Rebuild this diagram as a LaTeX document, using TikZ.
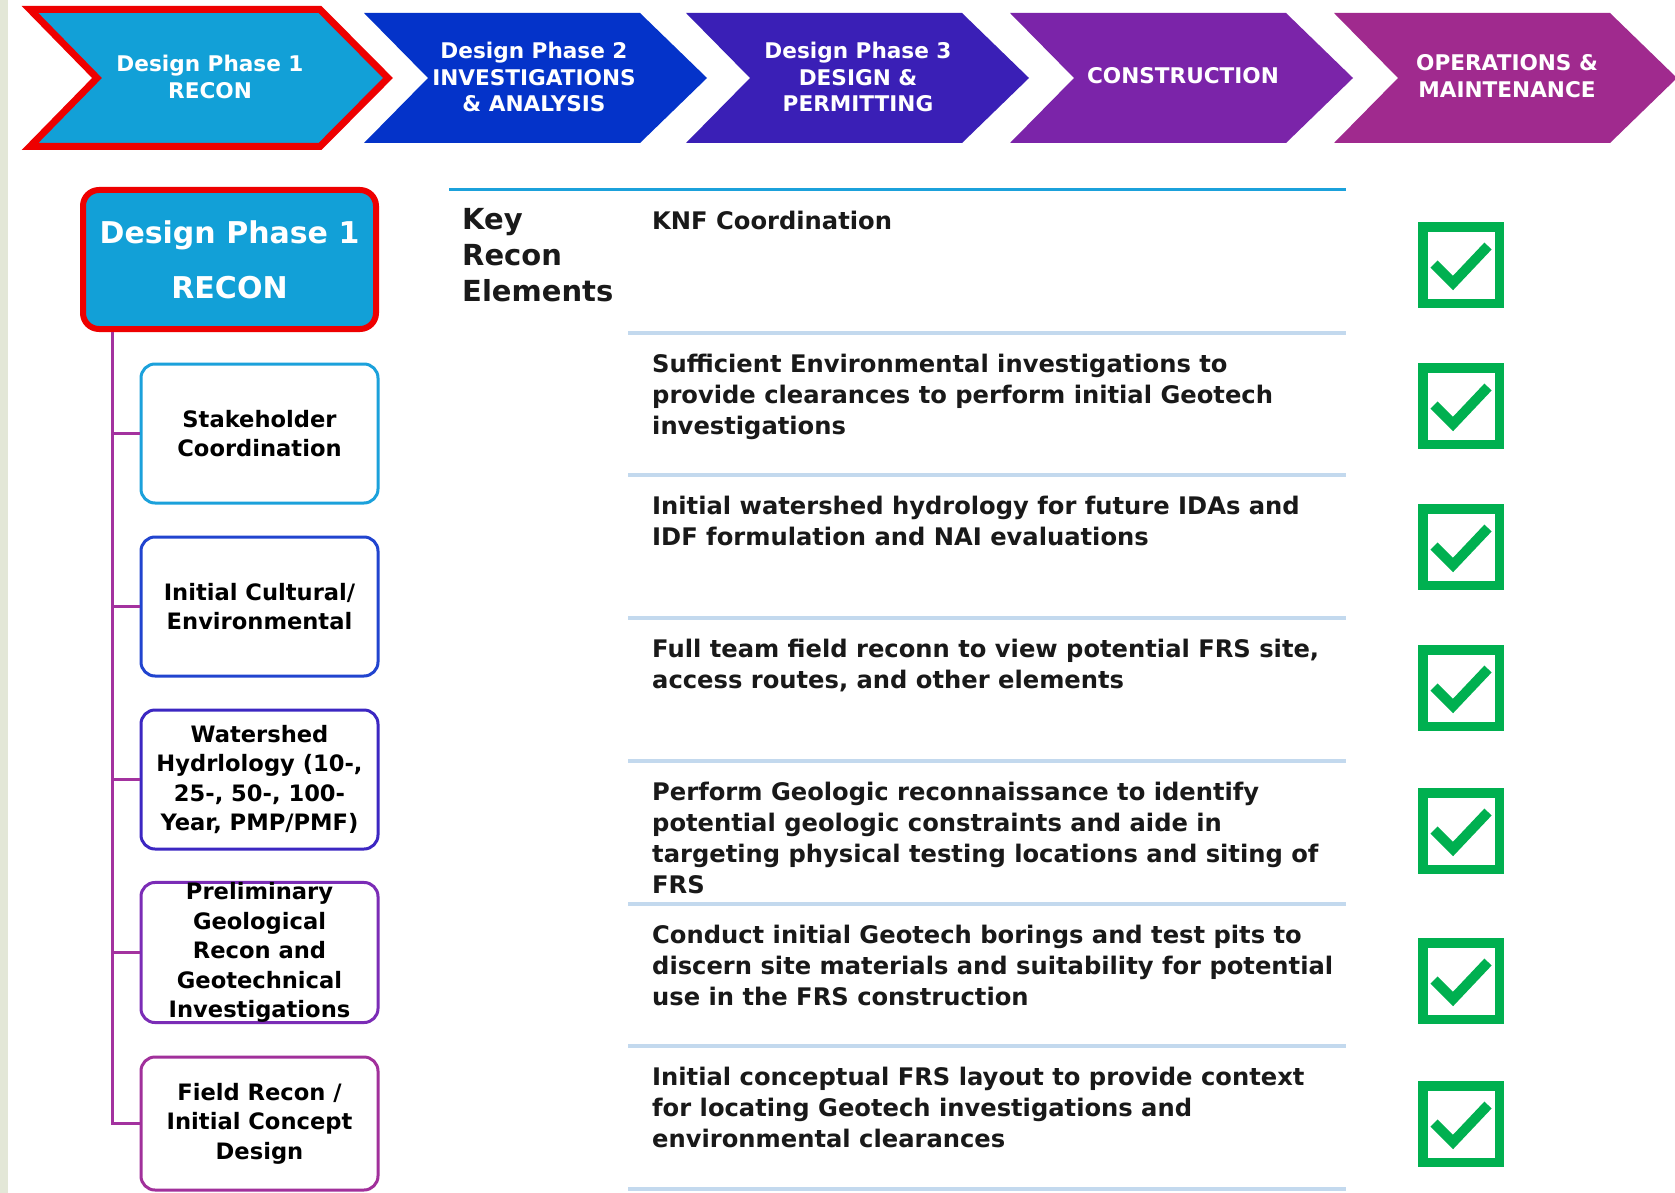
\documentclass[tikz,border=0pt]{standalone}
\usepackage{fontspec}
\setmainfont{DejaVu Sans}
\definecolor{cA}{HTML}{12A0D7}
\definecolor{cB}{HTML}{0433C9}
\definecolor{cC}{HTML}{3A1FB6}
\definecolor{cD}{HTML}{7B24A9}
\definecolor{cE}{HTML}{A02A8E}
\definecolor{redc}{HTML}{EE0000}
\definecolor{treec}{HTML}{A3329F}
\definecolor{bA}{HTML}{1BA1DB}
\definecolor{bB}{HTML}{2144CF}
\definecolor{bC}{HTML}{3C27C2}
\definecolor{bD}{HTML}{7B2CB6}
\definecolor{bE}{HTML}{A1309B}
\definecolor{rulec}{HTML}{C3D9EE}
\definecolor{greenc}{HTML}{00B050}
\definecolor{stripc}{HTML}{E3E7D7}
\begin{document}
\begin{tikzpicture}[x=1pt,y=-1pt,
  chevtext/.style={font=\bfseries\fontsize{21.6}{26.5}\selectfont, text=white, align=center, inner sep=0pt},
  rootbox/.style={draw=redc, line width=6pt, fill=cA, rounded corners=16pt, minimum width=293pt, minimum height=139pt,
     font=\bfseries\fontsize{30}{55}\selectfont, text=white, align=center, inner sep=0pt},
  subbox/.style={draw=#1, line width=3pt, fill=white, rounded corners=14pt, minimum width=237pt, minimum height=139pt,
     font=\bfseries\fontsize{22.6}{29.5}\selectfont, text=black, align=center, inner sep=0pt},
  tree/.style={treec, line width=3pt},
  rowtext/.style={anchor=north west, inner sep=0pt, align=left, font=\bfseries\fontsize{24.2}{31}\selectfont, text=black!90},
  keytext/.style={anchor=north west, inner sep=0pt, align=left, font=\bfseries\fontsize{29}{36}\selectfont, text=black!90},
  rowrule/.style={rulec, line width=4pt},
  checkbox/.style={greenc, line width=9.5pt},
  checkmark/.style={greenc, line width=10pt}
]
\useasboundingbox (0,0) rectangle (1675,1193);
\fill[white] (0,0) rectangle (1675,1193);
\fill[stripc] (0,0) rectangle (8,1193);

% chevrons
\filldraw[fill=cA, draw=redc, line width=7pt, line join=miter]
  (30,9.5) -- (320,9.5) -- (388,78) -- (320,146.5) -- (30,146.5) -- (97,78) -- cycle;
\foreach \L/\col in {364/cB,686/cC,1010/cD,1334/cE}
  \fill[\col] (\L,13) -- ++(276,0) -- ++(67,65) -- ++(-67,65) -- ++(-276,0) -- ++(64,-65) -- cycle;
\node[chevtext] (p1) at (210,77) {Design Phase 1\\RECON};
\node[chevtext] (p2) at (534,77) {Design Phase 2\\INVESTIGATIONS\\\& ANALYSIS};
\node[chevtext] (p3) at (858,77) {Design Phase 3\\DESIGN \&\\PERMITTING};
\node[chevtext] (p4) at (1183,76) {CONSTRUCTION};
\node[chevtext] (p5) at (1507,76) {OPERATIONS \&\\MAINTENANCE};

% left tree
\node[rootbox] (root) at (229.5,259.5) {Design Phase 1\\RECON};
\coordinate (trunk) at (112,332);
\coordinate (trunkend) at (112,1125);
\draw[tree] (trunk) -- (trunkend);
\node[subbox=bA] (s1) at (259.5,433.5) {Stakeholder\\Coordination};
\node[subbox=bB] (s2) at (259.5,606.5) {Initial Cultural/\\Environmental};
\node[subbox=bC] (s3) at (259.5,779.5) {Watershed\\Hydrlology (10-,\\25-, 50-, 100-\\Year, PMP/PMF)};
\node[subbox=bD] (s4) at (259.5,952.5) {Preliminary\\Geological\\Recon and\\Geotechnical\\Investigations};
\node[subbox=bE, minimum height=133pt] (s5) at (259.5,1123.5) {Field Recon /\\Initial Concept\\Design};
\foreach \s in {s1,s2,s3,s4,s5}
  \draw[tree] (trunk) |- (\s.west);

% table
\draw[bA, line width=3pt] (449,190) -- (1346,190);
\foreach \y in {333,475,618,761,904,1046,1189}
  \draw[rowrule] (628,\y) -- (1346,\y);
\node[keytext] (key) at (462,204.4) {\strut Key\\Recon\\Elements};
\node[rowtext] (r1) at (652,207.8) {\strut KNF Coordination};
\node[rowtext] (r2) at (652,350.8) {\strut Sufficient Environmental investigations to\\provide clearances to perform initial Geotech\\investigations};
\node[rowtext] (r3) at (652,492.8) {\strut Initial watershed hydrology for future IDAs and\\IDF formulation and NAI evaluations};
\node[rowtext] (r4) at (652,635.8) {\strut Full team field reconn to view potential FRS site,\\access routes, and other elements};
\node[rowtext] (r5) at (652,778.8) {\strut Perform Geologic reconnaissance to identify\\potential geologic constraints and aide in\\targeting physical testing locations and siting of\\FRS};
\node[rowtext] (r6) at (652,921.8) {\strut Conduct initial Geotech borings and test pits to\\discern site materials and suitability for potential\\use in the FRS construction};
\node[rowtext] (r7) at (652,1063.8) {\strut Initial conceptual FRS layout to provide context\\for locating Geotech investigations and\\environmental clearances};

% check boxes
\foreach \t in {222,363,504,645,788,938,1081} {
  \draw[checkbox] (1422.75,\t+4.75) rectangle (1499.25,\t+81.25);
  \draw[checkmark] (1434,\t+42) -- (1453,\t+61) -- (1488,\t+24);
}
\end{tikzpicture}
\end{document}
